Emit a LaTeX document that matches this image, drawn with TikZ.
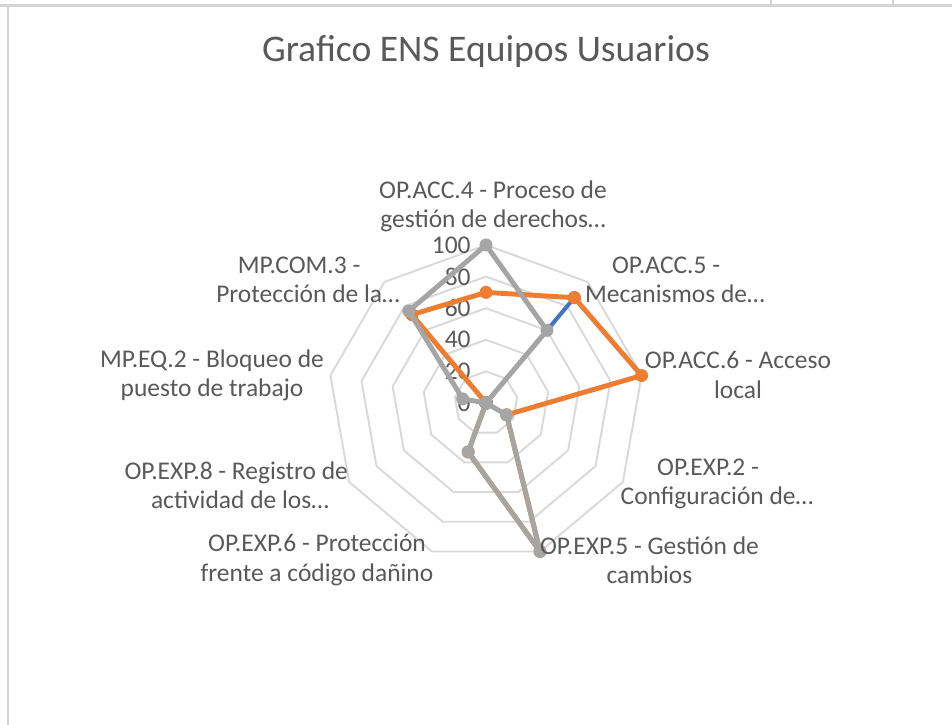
\documentclass[tikz,border=0pt]{standalone}
\usepackage{fontspec}
\setmainfont{Carlito}
\usetikzlibrary{positioning}

\definecolor{serieorange}{HTML}{ED7D31}
\definecolor{seriegray}{HTML}{A5A5A5}
\definecolor{serieblue}{HTML}{4472C4}
\definecolor{gridgray}{HTML}{D9D9D9}
\definecolor{framegray}{HTML}{D4D4D4}
\definecolor{textgray}{HTML}{595959}

\tikzset{
  ring/.style={draw=gridgray, line width=1.1pt},
  catlabel/.style={text=textgray, align=center, inner sep=0pt,
    font=\fontsize{14.5}{16.6}\selectfont},
  vallabel/.style={text=textgray, anchor=east, inner sep=0pt,
    font=\fontsize{14.5}{16.4}\selectfont},
  serie/.style={line width=2.8pt, line join=round},
  dot/.style={circle, inner sep=0pt, minimum size=7.4pt, fill=#1},
}

\begin{document}
\begin{tikzpicture}

            % \draw [help lines] (0,0) grid (19,-14);
            \useasboundingbox (0,0) rectangle (19.04,-14.5);

            % borde de la hoja
            \draw[framegray, line width=1.6pt] (0,-0.11) -- (19.04,-0.11);
            \draw[framegray, line width=1.6pt] (0.16,-0.12) -- (0.16,-14.5);
            \draw[framegray, line width=0.6pt] (15.42,0) -- (15.42,-0.08);
            \draw[framegray, line width=0.6pt] (17.86,0) -- (17.86,-0.08);

            \node (title) at (9.72,-1.04) [text=textgray, font=\fontsize{21.4}{25}\selectfont] {Grafico ENS Equipos Usuarios};

            \begin{scope}[shift={(9.72,-8.06)}, x=0.0316cm, y=0.0316cm]

            % rejilla
            \foreach \r in {20,40,...,100}
              \draw[ring] (90:\r) \foreach \i in {1,...,8} { -- ({90-40*\i}:\r) } -- cycle;

            \foreach \v in {0,20,...,100}
              \node (val\v) [vallabel] at (-9.5,\v) {\v};

            % serie azul
            \path   (90:0)   coordinate (b0)
                    (50:87)  coordinate (b1)
                    (10:0)   coordinate (b2)
                    (-30:0)  coordinate (b3)
                    (-70:0)  coordinate (b4)
                    (-110:0) coordinate (b5)
                    (-150:0) coordinate (b6)
                    (170:0)  coordinate (b7)
                    (130:0)  coordinate (b8);
            \draw[serie, serieblue, line width=2.3pt] (b0) -- (b1) -- (b2) -- (b3) -- (b4) -- (b5) -- (b6) -- (b7) -- (b8) -- cycle;
            \foreach \i in {0,...,8}
              \node (mb\i) [dot=serieblue] at (b\i) {};

            % serie naranja
            \path   (90:70)   coordinate (o0)
                    (50:87)   coordinate (o1)
                    (10:100)  coordinate (o2)
                    (-30:15)  coordinate (o3)
                    (-70:100) coordinate (o4)
                    (-110:33) coordinate (o5)
                    (-150:0)  coordinate (o6)
                    (170:0)   coordinate (o7)
                    (130:73)  coordinate (o8);
            \draw[serie, serieorange] (o0) -- (o1) -- (o2) -- (o3) -- (o4) -- (o5) -- (o6) -- (o7) -- (o8) -- cycle;
            \foreach \i in {0,...,8}
              \node (mo\i) [dot=serieorange] at (o\i) {};

            % serie gris
            \path   (90:100)  coordinate (g0)
                    (50:60)   coordinate (g1)
                    (10:0)    coordinate (g2)
                    (-30:15)  coordinate (g3)
                    (-70:100) coordinate (g4)
                    (-110:33) coordinate (g5)
                    (-150:0)  coordinate (g6)
                    (170:15)  coordinate (g7)
                    (130:76)  coordinate (g8);
            \draw[serie, seriegray] (g0) -- (g1) -- (g2) -- (g3) -- (g4) -- (g5) -- (g6) -- (g7) -- (g8) -- cycle;
            \foreach \i in {0,...,8}
              \node (mg\i) [dot=seriegray] at (g\i) {};

            \end{scope}

            % categorias
            \node (acc4) [catlabel] at (9.86,-4.13) {OP.ACC.4 - Proceso de\\gestión de derechos…};
            \node (acc5) [catlabel] at (13.5,-5.6) {OP.ACC.5 -\hspace*{.7em}\\Mecanismos de…};
            \node (acc6) [catlabel] at (14.76,-7.5) {OP.ACC.6 - Acceso\\local};
            \node (exp2) [catlabel] at (14.34,-9.68) {OP.EXP.2 -\hspace*{.7em}\\Configuración de…};
            \node (exp5) [catlabel] at (12.99,-11.2) {OP.EXP.5 - Gestión de\\cambios};
            \node (exp6) [catlabel] at (6.34,-11.2) {OP.EXP.6 - Protección\\frente a código dañino};
            \node (exp8) [catlabel] at (4.8,-9.7) {OP.EXP.8 - Registro de\hspace*{.3em}\\actividad de los…};
            \node (eq2) [catlabel] at (4.24,-7.5) {MP.EQ.2 - Bloqueo de\\puesto de trabajo};
            \node (com3) [catlabel] at (6.16,-5.6) {MP.COM.3 -\hspace*{.7em}\\Protección de la…};

\end{tikzpicture}
\end{document}
